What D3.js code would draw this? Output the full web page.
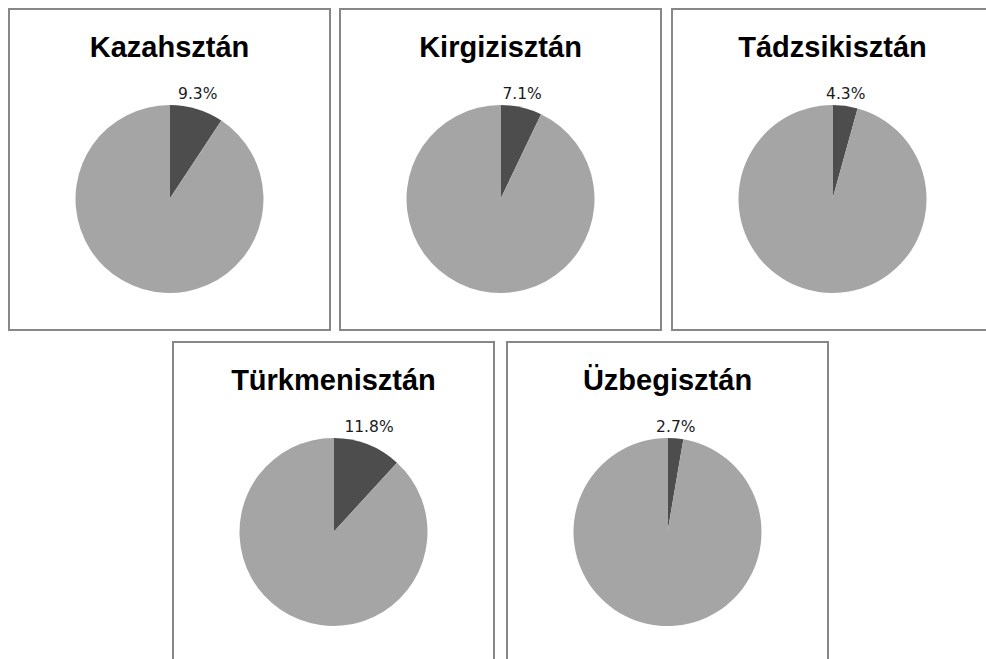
<!DOCTYPE html>
<html>
<head>
<meta charset="utf-8">
<script src="https://cdn.jsdelivr.net/npm/d3@7"></script>
<style>
  html, body { margin: 0; padding: 0; background: #fff; }
</style>
</head>
<body>
<div id="chart"></div>
<script>
// the data: share (%) of the highlighted slice for each country
const countries = ["Kazahsztán", "Kirgizisztán", "Tádzsikisztán", "Türkmenisztán", "Üzbegisztán"];
const shares = [9.3, 7.1, 4.3, 11.8, 2.7];

// page layout
const W = 986, H = 659;
const panelSize = 321;
// panel top-left corners: 3 in the first row, 2 centred-ish in the second
const rows = [
  { top: 9,   lefts: [9, 340, 672] },
  { top: 342, lefts: [173, 507] }
];
const panelPos = rows.flatMap(r => r.lefts.map(l => ({ x: l, y: r.top })));

const radius = 94;
const pieCy = 190;   // pie centre from panel top

const svg = d3.select("#chart")
  .append("svg")
    .attr("width", W)
    .attr("height", H);

const colour = d3.scaleOrdinal()
  .domain(["share", "rest"])
  .range(["#4d4d4d", "#a5a5a5"]);

const pie = d3.pie()
  .sort(null)
  .value(d => d.value);

const arc = d3.arc()
  .innerRadius(0)
  .outerRadius(radius);

countries.forEach((name, i) => {
  const p = panelPos[i];
  const g = svg.append("g")
    .attr("transform", `translate(${p.x},${p.y})`);

  // panel frame
  g.append("rect")
    .attr("x", 0)
    .attr("y", 0)
    .attr("width", panelSize)
    .attr("height", panelSize)
    .attr("fill", "#fff")
    .attr("stroke", "#878787")
    .attr("stroke-width", 2);

  // title
  g.append("text")
    .attr("x", panelSize / 2)
    .attr("y", 48)
    .attr("text-anchor", "middle")
    .style("font-family", "'Liberation Sans', Arial, sans-serif")
    .style("font-weight", "bold")
    .style("font-size", "29px")
    .style("fill", "#000")
    .text(name);

  const slices = pie([
    { key: "share", value: shares[i] },
    { key: "rest", value: 100 - shares[i] }
  ]);

  const pg = g.append("g")
    .attr("transform", `translate(${panelSize / 2},${pieCy})`);

  pg.selectAll("path")
    .data(slices)
    .enter()
    .append("path")
      .attr("d", arc)
      .attr("fill", d => colour(d.data.key));

  // label for the small slice, outside end, above the pie
  const s = slices[0];
  const mid = (s.startAngle + s.endAngle) / 2;
  pg.append("text")
    .attr("x", (radius + 4) * Math.sin(mid))
    .attr("y", -radius - 6)
    .attr("text-anchor", "middle")
    .style("font-family", "'DejaVu Sans', sans-serif")
    .style("font-size", "15.5px")
    .style("fill", "#1a1a1a")
    .text(shares[i].toFixed(1) + "%");
});
</script>
</body>
</html>
